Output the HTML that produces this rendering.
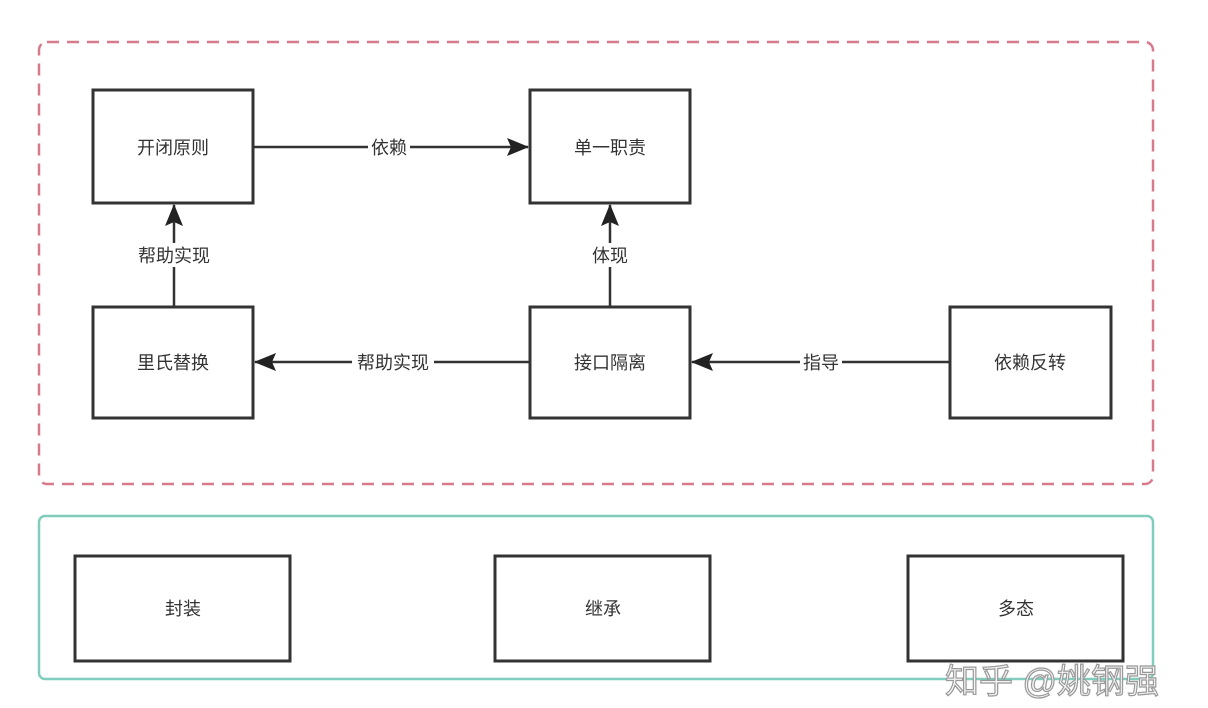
<!DOCTYPE html>
<html><head><meta charset="utf-8"><style>
html,body{margin:0;padding:0;background:#fff;}
svg{display:block;}
text{font-family:"Liberation Sans","Noto Sans CJK SC",sans-serif;fill:#333;}
</style></head><body>
<svg width="1208" height="708" viewBox="0 0 1208 708" xmlns="http://www.w3.org/2000/svg">
<defs>
<marker id="b" markerWidth="22" markerHeight="20" refX="21" refY="10" orient="auto" markerUnits="userSpaceOnUse" viewBox="0 0 22 20">
<path d="M0,1 L22,10 L0,19 L4,10 z" fill="#222"/></marker>
</defs>
<rect x="39" y="42" width="1114" height="442" rx="8" fill="none" stroke="#d77a8c" stroke-width="2.5" stroke-dasharray="12,8"/>
<rect x="39" y="516" width="1114" height="163" rx="6" fill="none" stroke="#80cdbd" stroke-width="2.5"/>
<g fill="#fff" stroke="#333" stroke-width="3">
<rect x="93" y="90" width="160" height="113"/>
<rect x="530" y="90" width="160" height="113"/>
<rect x="93" y="307" width="160" height="111"/>
<rect x="530" y="307" width="160" height="111"/>
<rect x="950" y="307" width="161" height="111"/>
<rect x="75" y="556" width="215" height="105"/>
<rect x="495" y="556" width="215" height="105"/>
<rect x="908" y="556" width="215" height="105"/>
</g>
<g stroke="#333" stroke-width="2.5" fill="none">
<line x1="254" y1="147" x2="528" y2="147" marker-end="url(#b)"/>
<line x1="174" y1="306" x2="174" y2="205" marker-end="url(#b)"/>
<line x1="610" y1="306" x2="610" y2="205" marker-end="url(#b)"/>
<line x1="529" y1="362" x2="255" y2="362" marker-end="url(#b)"/>
<line x1="949" y1="362" x2="692" y2="362" marker-end="url(#b)"/>
</g>
<g font-size="18" text-anchor="middle">
<rect x="368" y="136" width="42" height="22" fill="#fff"/>
<text x="389" y="154">依赖</text>
<rect x="132" y="243" width="84" height="24" fill="#fff"/>
<text x="174" y="262">帮助实现</text>
<rect x="589" y="243" width="42" height="24" fill="#fff"/>
<text x="610" y="262">体现</text>
<rect x="352" y="351" width="82" height="22" fill="#fff"/>
<text x="393" y="369">帮助实现</text>
<rect x="800" y="351" width="42" height="22" fill="#fff"/>
<text x="821" y="369">指导</text>
<text x="173" y="154">开闭原则</text>
<text x="610" y="154">单一职责</text>
<text x="173" y="369">里氏替换</text>
<text x="610" y="369">接口隔离</text>
<text x="1030" y="369">依赖反转</text>
<text x="183" y="615">封装</text>
<text x="603" y="615">继承</text>
<text x="1016" y="615">多态</text>
</g>
<text x="945" y="693" font-size="34" stroke="#999" stroke-width="1.2" style="fill:#f4f4f4">知乎 @姚钢强</text>
</svg>
</body></html>
